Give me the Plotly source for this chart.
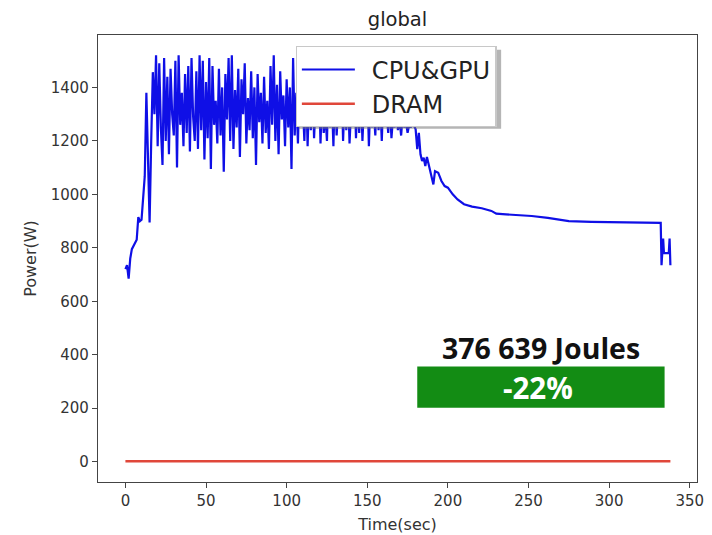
import plotly.graph_objects as go

# ---- data ----
ramp_time = list(range(0, 19))
ramp_w = [720, 735, 685, 760, 795, 805, 815, 830, 915, 900, 905, 1010, 1068,
          1380, 1150, 895, 1200, 1457, 1300]

active_time = list(range(19, 180))
active_w = [
    # t19-60
    1520, 1180, 1490, 1250, 1110, 1510, 1200, 1440, 1150, 1470, 1300, 1220, 1500, 1100,
    1520, 1260, 1380, 1180, 1450, 1230, 1480, 1160, 1510, 1290, 1200, 1460, 1170, 1520,
    1240, 1500, 1130, 1420, 1210, 1510, 1095, 1480, 1260, 1350, 1190, 1470, 1220, 1400,
    # t61-100
    1085, 1450, 1280, 1510, 1200, 1520, 1170, 1390, 1250, 1470, 1140, 1430, 1300, 1490,
    1190, 1360, 1240, 1460, 1210, 1400, 1110, 1450, 1270, 1380, 1190, 1440, 1230, 1350,
    1170, 1480, 1260, 1520, 1200, 1410, 1150, 1460, 1280, 1370, 1180, 1430,
    # t101-140
    1250, 1400, 1095, 1510, 1220, 1380, 1190, 1450, 1260, 1340, 1200, 1420, 1180, 1390,
    1240, 1460, 1210, 1350, 1270, 1430, 1190, 1380, 1230, 1300, 1200, 1440, 1250, 1360,
    1180, 1410, 1220, 1330, 1260, 1450, 1200, 1370, 1240, 1400, 1190, 1320,
    # t141-179
    1270, 1430, 1210, 1360, 1230, 1390, 1200, 1340, 1260, 1420, 1180, 1370, 1250, 1310,
    1220, 1400, 1240, 1350, 1200, 1380, 1260, 1300, 1230, 1340, 1210, 1290, 1250, 1320,
    1240, 1280, 1220, 1300, 1250, 1270, 1230, 1260, 1250, 1270, 1255,
]

tail_time = [180, 181, 182, 183, 184, 185, 186, 187, 188, 189, 190, 191, 192,
             194, 196, 198, 200, 203, 206, 210, 215, 221, 227, 230, 236, 242, 252,
             262, 275, 289, 304, 319, 332, 332.5, 333.5, 334, 337, 337.5, 338]
tail_w = [1243, 1169, 1230, 1150, 1125, 1137, 1106, 1140, 1112, 1080, 1056, 1037, 1087,
          1081, 1050, 1031, 1025, 1000, 981, 963, 954, 948, 938, 928, 925, 923, 919,
          912, 900, 897, 895, 895, 893, 735, 835, 780, 780, 835, 735]

cpu_gpu_time = ramp_time + active_time + tail_time
cpu_gpu_w = ramp_w + active_w + tail_w

dram_time = [0, 338]
dram_w = [2, 2]

x_ticks = [0, 50, 100, 150, 200, 250, 300, 350]
y_ticks = [0, 200, 400, 600, 800, 1000, 1200, 1400]

energy_label = "376 639 Joules"
saving_label = "-22%"

# ---- figure ----
fig = go.Figure()
fig.add_trace(go.Scatter(x=cpu_gpu_time, y=cpu_gpu_w, mode="lines", name="\u2002CPU&GPU",
                         line=dict(color="#0f0fe6", width=2.2)))
fig.add_trace(go.Scatter(x=dram_time, y=dram_w, mode="lines", name="\u2002DRAM",
                         line=dict(color="#e0473a", width=2.5)))

tick_font = dict(family="DejaVu Sans", size=15, color="#333333")
title_font = dict(family="DejaVu Sans", size=16, color="#333333")
common = dict(showgrid=False, zeroline=False, showline=True, mirror=True,
              linecolor="#444444", linewidth=1.3, ticks="outside", ticklen=5,
              tickcolor="#444444", tickfont=tick_font, automargin=False)

fig.update_xaxes(range=[-17, 354.5], tickvals=x_ticks,
                 title=dict(text="Time(sec)", font=title_font, standoff=9), **common)
fig.update_yaxes(range=[-76, 1596], tickvals=y_ticks,
                 title=dict(text="Power(W)", font=title_font, standoff=10), **common)

# legend drop shadow (paper coords)
fig.add_shape(type="rect", xref="paper", yref="paper", x0=0.335, x1=0.673, y0=0.790, y1=0.967,
              fillcolor="rgba(120,120,120,0.55)", line=dict(width=0), layer="above")

fig.add_shape(type="rect", xref="x", yref="y", x0=181, x1=334.4, y0=202, y1=356,
              fillcolor="#138c14", line=dict(width=0), layer="above")
fig.add_annotation(x=258, y=427, xref="x", yref="y", text="<b>" + energy_label + "</b>",
                   showarrow=False, font=dict(family="Open Sans", size=28.5, color="#111111"))
fig.add_annotation(x=256, y=279, xref="x", yref="y", text="<b>" + saving_label + "</b>",
                   showarrow=False, font=dict(family="Open Sans", size=29.5, color="white"))

fig.update_layout(
    width=704, height=527,
    margin=dict(l=90, r=15, t=27, b=53),
    paper_bgcolor="white", plot_bgcolor="white",
    title=dict(text="global", xref="paper", x=0.5, xanchor="center",
               yref="container", y=1 - 11 / 527, yanchor="middle",
               font=dict(family="DejaVu Sans", size=19.5, color="#222222")),
    legend=dict(x=0.33, y=0.975, xanchor="left", yanchor="top",
                bgcolor="white", bordercolor="#c8c8c8", borderwidth=1.2,
                font=dict(family="DejaVu Sans", size=24, color="#222222"),
                itemwidth=53),
    showlegend=True,
)

fig.write_html("out.html")
